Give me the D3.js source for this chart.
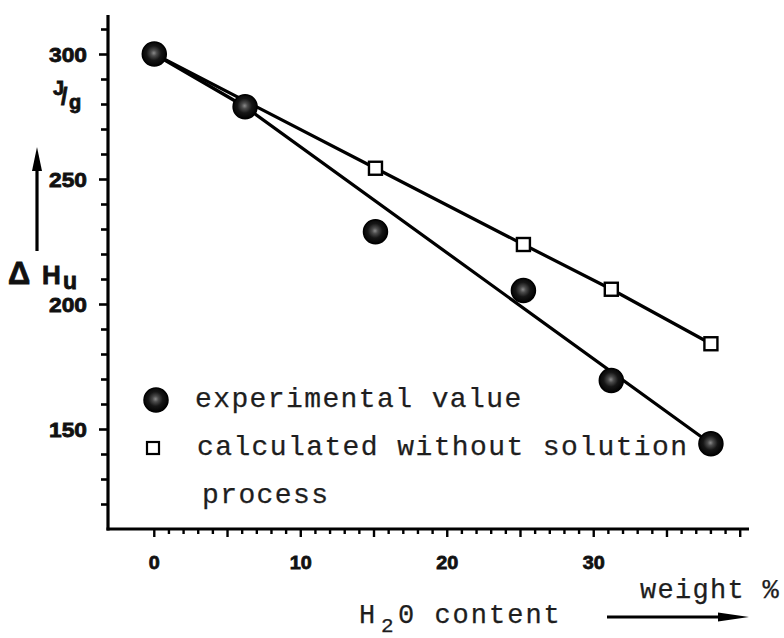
<!DOCTYPE html>
<html>
<head>
<meta charset="utf-8">
<script src="https://cdn.jsdelivr.net/npm/d3@7"></script>
<style>
  html, body { margin: 0; padding: 0; background: #fff; }
  svg { display: block; }
  .num { font-family: "Liberation Sans", Arial, sans-serif; font-weight: bold; fill: #111; stroke: #111; stroke-width: 0.8px; }
  .type { font-family: "Liberation Mono", monospace; fill: #1e1e1e; stroke: #1e1e1e; stroke-width: 0.25px; }
</style>
</head>
<body>
<svg id="chart" width="784" height="638"></svg>
<script>
// Water content (weight %) and melting enthalpy ΔHu (J/g)
const expContent = [0, 6.2, 15.1, 25.2, 31.2, 38];
const expEnthalpy = [300.2, 279.1, 229.1, 205.6, 169.6, 144.3];

const calcContent = [0, 15.1, 25.2, 31.2, 38];
const calcEnthalpy = [300.2, 254.5, 224, 206.1, 184.3];

// Straight-line fit drawn through the experimental values
const fitContent = [0, 6.2, 38];
const fitEnthalpy = [300.2, 279.1, 144.3];

const xTickLabels = [0, 10, 20, 30];
const yTickLabels = [150, 200, 250, 300];

const legendLabels = ["experimental value", "calculated without solution", "process"];

const svg = d3.select("#chart");

const x = d3.scaleLinear().domain([-3.16, 40.6]).range([108, 749]);
const y = d3.scaleLinear().domain([110.6, 315.6]).range([528, 15.5]);
const axisY = 529;

// gradient for the filled markers
const defs = svg.append("defs");
const grad = defs.append("radialGradient").attr("id", "dot").attr("cx", "48%").attr("cy", "46%").attr("r", "55%");
grad.append("stop").attr("offset", "0%").attr("stop-color", "#8a8a8a");
grad.append("stop").attr("offset", "22%").attr("stop-color", "#4c4c4c");
grad.append("stop").attr("offset", "55%").attr("stop-color", "#161616");
grad.append("stop").attr("offset", "100%").attr("stop-color", "#000");

// y axis with minor ticks every 10 and major ticks every 50
const yAxis = svg.append("g").attr("transform", "translate(108,0)");
yAxis.append("line").attr("x1", 0).attr("x2", 0).attr("y1", 15).attr("y2", axisY + 1.5)
  .attr("stroke", "#000").attr("stroke-width", 3.2);
const yTicks = d3.range(120, 311, 10);
yAxis.selectAll("line.t").data(yTicks).join("line").attr("class", "t")
  .attr("x1", d => d % 50 === 0 ? -9 : -7).attr("x2", 0)
  .attr("y1", d => y(d)).attr("y2", d => y(d))
  .attr("stroke", "#000").attr("stroke-width", 2.6);
svg.selectAll("text.ylab").data(yTickLabels).join("text").attr("class", "ylab num")
  .attr("x", 87).attr("y", d => y(d)).attr("dy", "0.37em")
  .attr("text-anchor", "end").attr("font-size", 21)
  .attr("textLength", 38).attr("lengthAdjust", "spacingAndGlyphs")
  .text(d => d);

// x axis with minor ticks every 1 and major ticks every 5
const xAxis = svg.append("g");
xAxis.append("line").attr("x1", 106.5).attr("x2", 749).attr("y1", axisY).attr("y2", axisY)
  .attr("stroke", "#000").attr("stroke-width", 3.2);
const xTicks = d3.range(0, 41, 1);
xAxis.selectAll("line.t").data(xTicks).join("line").attr("class", "t")
  .attr("x1", d => x(d)).attr("x2", d => x(d))
  .attr("y1", axisY).attr("y2", d => axisY + (d % 5 === 0 ? 8 : 5))
  .attr("stroke", "#000").attr("stroke-width", 2.4);
svg.selectAll("text.xlab").data(xTickLabels).join("text").attr("class", "xlab num")
  .attr("x", d => x(d)).attr("y", 569)
  .attr("text-anchor", "middle").attr("font-size", 19)
  .attr("textLength", d => String(d).length * 11).attr("lengthAdjust", "spacingAndGlyphs")
  .text(d => d);

// y axis title: ΔHu, unit J/g and upward arrow
const unit = svg.append("text").attr("class", "num").attr("font-size", 20);
unit.append("tspan").attr("x", 53).attr("y", 95).text("J");
unit.append("tspan").attr("x", 61).attr("y", 105).attr("font-size", 23).text("/");
unit.append("tspan").attr("x", 69).attr("y", 109).text("g");

svg.append("text").attr("class", "num").attr("x", 8).attr("y", 284).attr("font-size", 31).text("Δ");
svg.append("text").attr("class", "num").attr("x", 42).attr("y", 284).attr("font-size", 26).text("H");
svg.append("text").attr("class", "num").attr("x", 63).attr("y", 289).attr("font-size", 23).text("u");

svg.append("line").attr("x1", 37).attr("x2", 37).attr("y1", 251).attr("y2", 165)
  .attr("stroke", "#000").attr("stroke-width", 3.2);
svg.append("path").attr("d", "M37,147 L42,171 L32,171 Z").attr("fill", "#000");

// connecting lines
const line = d3.line().x(d => x(d[0])).y(d => y(d[1]));
svg.append("path").datum(d3.zip(fitContent, fitEnthalpy)).attr("d", line)
  .attr("fill", "none").attr("stroke", "#000").attr("stroke-width", 3.2).attr("stroke-linejoin", "round");
svg.append("path").datum(d3.zip(calcContent, calcEnthalpy)).attr("d", line)
  .attr("fill", "none").attr("stroke", "#000").attr("stroke-width", 3.2).attr("stroke-linejoin", "round");

// calculated values (open squares)
const sq = 13;
svg.selectAll("rect.calc").data(d3.zip(calcContent, calcEnthalpy).slice(1)).join("rect").attr("class", "calc")
  .attr("x", d => x(d[0]) - sq / 2).attr("y", d => y(d[1]) - sq / 2)
  .attr("width", sq).attr("height", sq)
  .attr("fill", "#fff").attr("stroke", "#000").attr("stroke-width", 2.4);

// experimental values (filled dots)
svg.selectAll("circle.exp").data(d3.zip(expContent, expEnthalpy)).join("circle").attr("class", "exp")
  .attr("cx", d => x(d[0])).attr("cy", d => y(d[1])).attr("r", 12)
  .attr("fill", "url(#dot)").attr("stroke", "#000").attr("stroke-width", 1.5);

// legend
svg.append("circle").attr("cx", 156).attr("cy", 400).attr("r", 12)
  .attr("fill", "url(#dot)").attr("stroke", "#000").attr("stroke-width", 1.5);
svg.append("rect").attr("x", 147).attr("y", 442).attr("width", 12).attr("height", 12)
  .attr("fill", "#fff").attr("stroke", "#000").attr("stroke-width", 2.2);
const legendPos = [[195, 407], [197, 455], [202, 503]];
svg.selectAll("text.leg").data(legendLabels).join("text").attr("class", "leg type")
  .attr("x", (d, i) => legendPos[i][0]).attr("y", (d, i) => legendPos[i][1])
  .attr("font-size", 28).attr("letter-spacing", 1.4)
  .text(d => d);

// x axis title
const xt = svg.append("text").attr("class", "type").attr("font-size", 27).attr("letter-spacing", 2);
xt.append("tspan").attr("x", 359).attr("y", 623).text("H");
xt.append("tspan").attr("x", 381).attr("y", 632).attr("font-size", 21).text("2");
xt.append("tspan").attr("x", 398).attr("y", 623).text("0 content");

svg.append("text").attr("class", "type").attr("x", 640).attr("y", 598)
  .attr("font-size", 27).attr("letter-spacing", 1.3).text("weight %");

svg.append("line").attr("x1", 607).attr("x2", 725).attr("y1", 617).attr("y2", 617)
  .attr("stroke", "#000").attr("stroke-width", 3.2);
svg.append("path").attr("d", "M749,617 L718,612.5 L718,621.5 Z").attr("fill", "#000");
</script>
</body>
</html>
